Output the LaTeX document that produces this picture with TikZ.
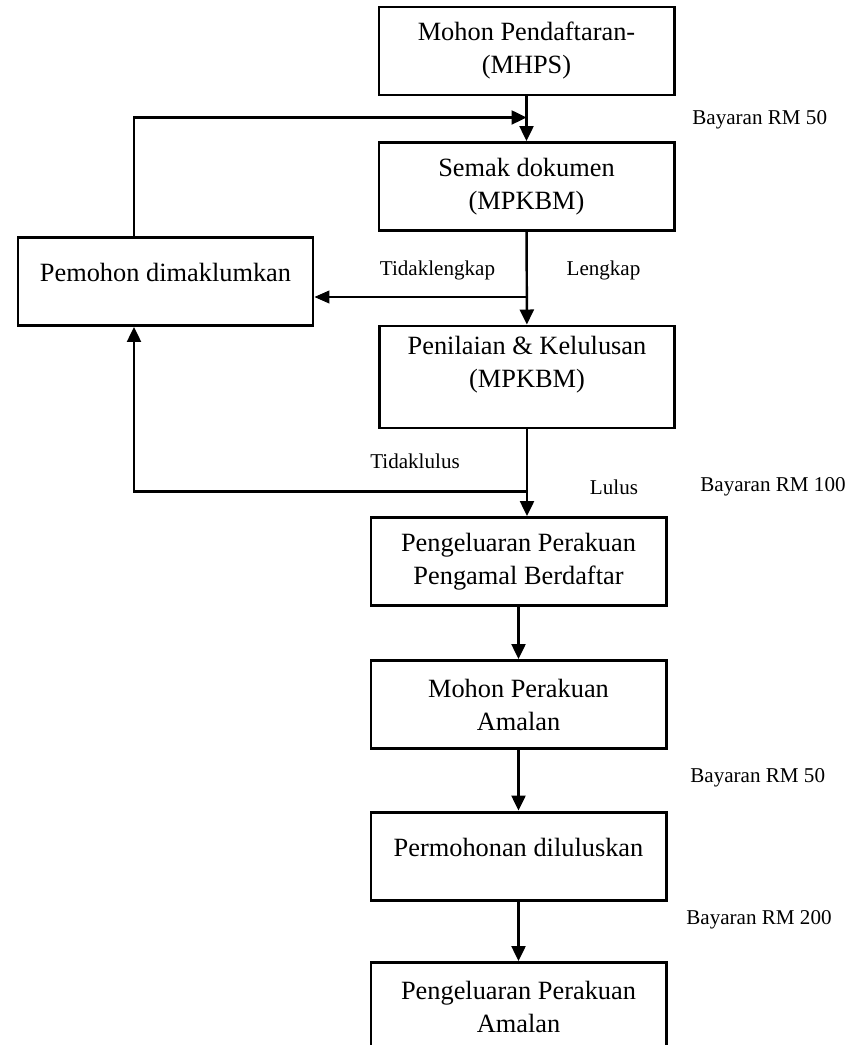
\documentclass[tikz,border=0pt]{standalone}
\usepackage{fontspec}
\setmainfont{Liberation Serif}
\usepackage{tikz}
\usetikzlibrary{arrows.meta,positioning}
\tikzstyle{kotak} = [draw=black, line width=1.7pt, rectangle, minimum width=5.9cm, minimum height=1.76cm, align=center, font=\fontsize{15}{18.8}\selectfont]
\tikzstyle{atas} = [text depth=0.35cm]
\tikzstyle{anak} = [line width=1.4pt, -{Triangle[length=0.3cm,width=0.28cm]}]
\tikzstyle{nipis} = [line width=0.6pt, -{Triangle[length=0.3cm,width=0.26cm]}]
\tikzstyle{nota} = [font=\fontsize{12}{14}\selectfont, inner sep=0pt]

\begin{document}
\begin{tikzpicture}
		\useasboundingbox (0,0) rectangle (17.08,-20.9);
		\node[kotak](mohon) at (10.53,-1.02) {Mohon Pendaftaran-\\(MHPS)};
		\node[kotak](semak) at (10.53,-3.73) {Semak dokumen\\(MPKBM)};
		\node[kotak, atas](maklum) at (3.31,-5.63) {Pemohon dimaklumkan};
		\node[kotak, minimum height=2.04cm, text depth=0.6cm](nilai) at (10.54,-7.54) {Penilaian \& Kelulusan\\(MPKBM)};
		\node[kotak](sijil) at (10.37,-11.23) {Pengeluaran Perakuan\\Pengamal Berdaftar};
		\node[kotak](amalan) at (10.37,-14.09) {Mohon Perakuan\\Amalan};
		\node[kotak, atas](lulus) at (10.37,-17.12) {Permohonan diluluskan};
		\node[kotak, anchor=north, inner ysep=0.34cm](akhir) at (10.37,-19.22) {Pengeluaran Perakuan\\Amalan};

		\coordinate (j1) at ([yshift=-0.42cm]mohon.south);
		\coordinate (j2) at ([yshift=-1.3cm]semak.south);
		\coordinate (j3) at ([yshift=-1.24cm]nilai.south);

		\draw[anak] (mohon) -- (semak);
		\draw[anak] ([xshift=-6.3mm]maklum.north) |- (j1);
		\draw[anak] (semak) -- (nilai);
		\draw[nipis] (j2) -- (j2 -| maklum.east);
		\draw[anak] (nilai.south) -- (nilai.south |- sijil.north);
		\draw[anak] (j3) -| ([xshift=-6.3mm]maklum.south);
		\draw[anak] (sijil) -- (amalan);
		\draw[anak] (amalan) -- (lulus);
		\draw[anak] (lulus) -- (akhir);

		\node[nota, anchor=west](bayar1) at (13.84,-2.4) {Bayaran RM 50};
		\node[nota](tlengkap) at (8.75,-5.4) {Tidaklengkap};
		\node[nota](lengkap) at (12.07,-5.4) {Lengkap};
		\node[nota](tlulus) at (8.3,-9.22) {Tidaklulus};
		\node[nota](lulusn) at (12.28,-9.74) {Lulus};
		\node[nota, anchor=west](bayar2) at (14.0,-9.74) {Bayaran RM 100};
		\node[nota, anchor=west](bayar3) at (13.8,-15.56) {Bayaran RM 50};
		\node[nota, anchor=west](bayar4) at (13.72,-18.4) {Bayaran RM 200};
	\end{tikzpicture}
\end{document}
